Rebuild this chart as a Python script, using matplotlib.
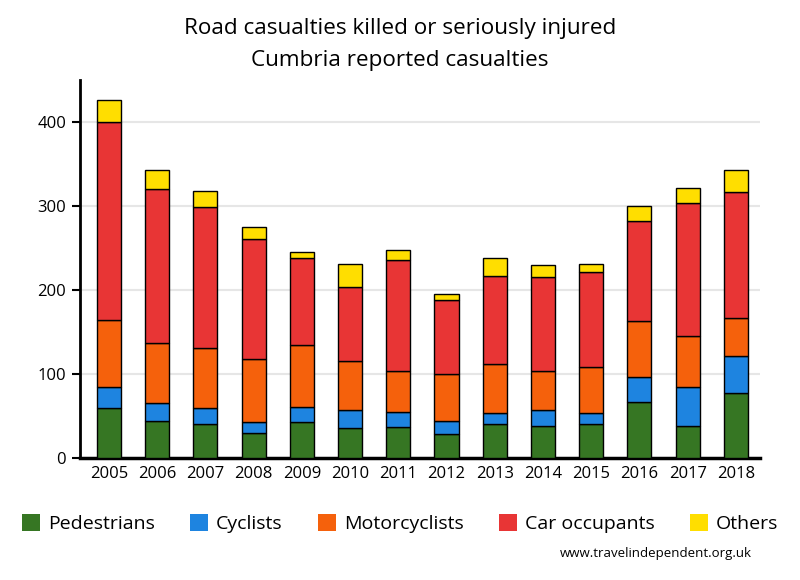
import matplotlib

matplotlib.use("Agg")
import matplotlib.pyplot as plt  # noqa: E402
import numpy as np  # noqa: E402

years = ["2005", "2006", "2007", "2008", "2009", "2010", "2011",
         "2012", "2013", "2014", "2015", "2016", "2017", "2018"]
pedestrians = [60, 44, 40, 30, 43, 36, 37, 28, 40, 38, 40, 67, 38, 77]
cyclists = [24, 22, 19, 13, 18, 21, 18, 16, 14, 19, 14, 30, 46, 44]
motorcyclists = [80, 71, 72, 75, 74, 58, 49, 56, 58, 47, 54, 66, 61, 46]
car_occupants = [236, 183, 168, 143, 103, 89, 132, 88, 105, 111, 113, 119, 159, 149]
others = [26, 23, 19, 14, 7, 27, 12, 7, 21, 15, 10, 18, 17, 27]

series = [
    ("Pedestrians", pedestrians, "#367623"),
    ("Cyclists", cyclists, "#1e84e0"),
    ("Motorcyclists", motorcyclists, "#f5610c"),
    ("Car occupants", car_occupants, "#e83535"),
    ("Others", others, "#ffde00"),
]

plt.rcParams["font.family"] = ["Open Sans", "DejaVu Sans"]

fig = plt.figure(figsize=(8, 5.8), dpi=100)
ax = fig.add_axes([0.1, 0.2103, 0.85, 0.652])

x = np.arange(len(years))
bottom = np.zeros(len(years))
handles = []
for name, vals, color in series:
    bars = ax.bar(x, vals, width=0.5, bottom=bottom, color=color,
                  edgecolor="black", linewidth=1.0, label=name, zorder=3)
    handles.append(bars)
    bottom += np.array(vals)

ax.set_xlim(-0.6, 13.5)
ax.set_ylim(0, 450)
ax.set_yticks([0, 100, 200, 300, 400])
ax.set_xticks(x)
ax.set_xticklabels(years)
ax.tick_params(axis="x", length=0, labelsize=12, pad=6)
ax.tick_params(axis="y", length=6, width=1.5, labelsize=12, pad=4)

for v in [100, 200, 300, 400]:
    ax.axhline(v, color="#e6e6e6", linewidth=1.5, zorder=1)

for side in ["top", "right"]:
    ax.spines[side].set_visible(False)
ax.spines["left"].set_linewidth(2)
ax.spines["bottom"].set_linewidth(2.5)

fig.text(0.5, 0.951, "Road casualties killed or seriously injured",
         ha="center", va="center", fontsize=16.2)
fig.text(0.5, 0.896, "Cumbria reported casualties",
         ha="center", va="center", fontsize=16.2)

leg = fig.legend(handles=handles, loc="center", bbox_to_anchor=(0.5, 0.097),
                 ncol=5, frameon=False, fontsize=14, handlelength=0.95,
                 handleheight=1.0, handletextpad=0.4, columnspacing=1.8)
for patch in leg.get_patches():
    patch.set_edgecolor("none")

fig.text(0.94, 0.045, "www.travelindependent.org.uk", ha="right",
         va="center", fontsize=9.5)

fig.savefig("out.png", dpi=100)
